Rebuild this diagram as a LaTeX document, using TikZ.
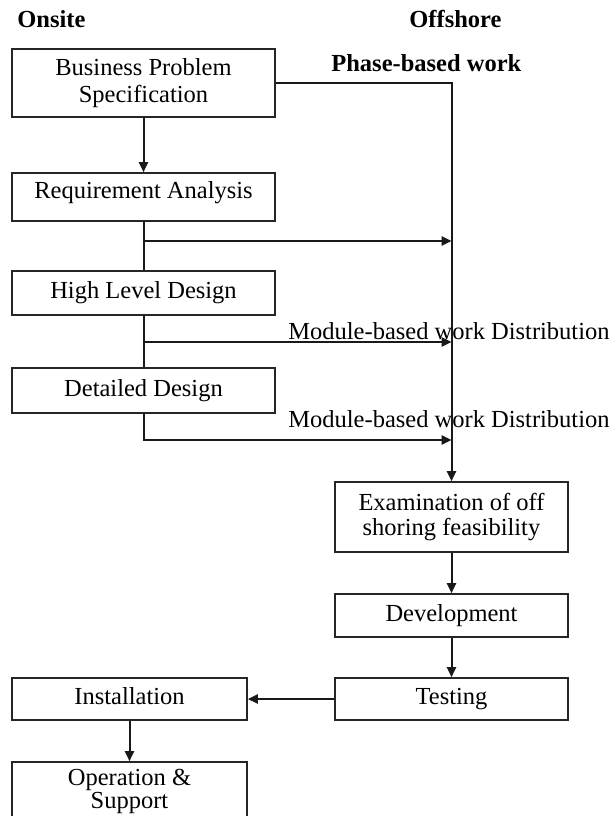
\documentclass[tikz,border=0pt]{standalone}
\usepackage{fontspec}
\setmainfont{Liberation Serif}
\usetikzlibrary{arrows.meta}
\begin{document}
\begin{tikzpicture}[x=0.5pt,y=-0.5pt,
  box/.style={draw=black!85, line width=0.85pt, minimum width=131.5pt, inner sep=0pt,
    align=center, font=\fontsize{12.25}{13}\selectfont},
  oneline/.style={text height=8.35pt, text depth=2.7pt},
  conn/.style={line width=1pt, draw=black!90},
  arr/.style={conn, -{Triangle[length=5pt,width=4.6pt]}},
  head/.style={font=\bfseries\fontsize{12.25}{13}\selectfont, inner sep=0pt, anchor=base west},
  note/.style={font=\fontsize{12.25}{13}\selectfont, inner sep=0pt, anchor=base west}]
\clip (0,0) rectangle (609,816);
\fill[white] (0,0) rectangle (609,816);

% column headings
\node[head] (onsite) at (17,27) {Onsite};
\node[head] (offshore) at (409,27) {Offshore};
\node[head] (phase) at (331,71) {Phase-based work};

% onsite phases
\node[box, minimum height=34pt, font=\fontsize{12.25}{13.5}\selectfont] (bps) at (143.5,83) {Business Problem\\Specification};
\node[box, minimum height=24pt, text height=8.35pt, text depth=7.35pt] (ra) at (143.5,197) {Requirement Analysis};
\node[box, oneline, minimum height=22pt] (hld) at (143.5,293) {High Level Design};
\node[box, oneline, minimum height=22.5pt] (dd) at (143.5,390.5) {Detailed Design};

% offshore phases
\node[box, minimum width=116.5pt, minimum height=35pt, font=\fontsize{12.25}{12.5}\selectfont] (exam) at (451.5,517) {Examination of off\\shoring feasibility};
\node[box, oneline, minimum width=116.5pt, minimum height=21.5pt] (dev) at (451.5,615.5) {Development};
\node[box, oneline, minimum width=116.5pt, minimum height=21pt] (test) at (451.5,699) {Testing};

% back onsite
\node[box, oneline, minimum width=117.5pt, minimum height=21pt] (inst) at (129.5,699) {Installation};
\node[box, minimum width=117.5pt, minimum height=29.5pt, font=\fontsize{12.25}{11.5}\selectfont] (os) at (129.5,791.5) {Operation \&\\Support};

% hand-over points on the onsite chain
\coordinate (b1) at (143.5,241);
\coordinate (b2) at (143.5,342);
\coordinate (b3) at (143.5,440);

% onsite chain
\draw[arr] (bps.south) -- (ra.north);
\draw[conn] (ra.south) -- (hld.north);
\draw[conn] (hld.south) -- (dd.north);

% work sent offshore
\draw[arr] (bps.east) -| (exam.north);
\draw[arr] (b1) -- (b1 -| exam.north);
\draw[arr] (b2) -- (b2 -| exam.north);
\draw[arr] (dd.south) -- (b3) -- (b3 -| exam.north);

\node[note] (mod1) at (288,339) {Module-based work Distribution};
\node[note] (mod2) at (288,427) {Module-based work Distribution};

% offshore chain and return
\draw[arr] (exam.south) -- (dev.north);
\draw[arr] (dev.south) -- (test.north);
\draw[arr] (test.west) -- (inst.east);
\draw[arr] (inst.south) -- (os.north);
\end{tikzpicture}
\end{document}
